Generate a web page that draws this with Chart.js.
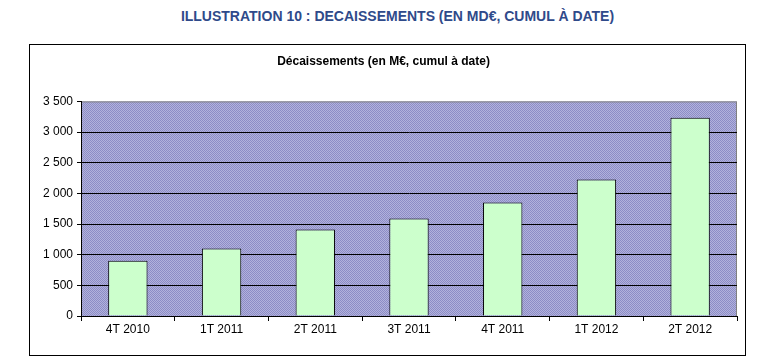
<!DOCTYPE html>
<html>
<head>
<meta charset="utf-8">
<script src="https://cdn.jsdelivr.net/npm/chart.js@4"></script>
<style>
  body { margin: 0; background: #fff; width: 767px; height: 363px; position: relative; overflow: hidden; }
  #mainTitle {
    position: absolute; left: 0; top: 8px; width: 795px; text-align: center;
    font-family: "Liberation Sans Narrow", "Arial Narrow", "Liberation Sans", sans-serif;
    font-weight: bold; font-size: 14px; color: #2F4A8A;
  }
  #box {
    position: absolute; left: 29px; top: 44px; width: 715px; height: 310px;
    border: 1px solid #000;
  }
</style>
</head>
<body>
<div id="mainTitle">ILLUSTRATION 10 : DECAISSEMENTS (EN MD€, CUMUL À DATE)</div>
<div id="box"><canvas id="myChart" width="715" height="310"></canvas></div>
<script>
const categories = ['4T 2010', '1T 2011', '2T 2011', '3T 2011', '4T 2011', '1T 2012', '2T 2012'];
const disbursements = [900, 1100, 1410, 1590, 1850, 2225, 3235];
const yTicks = [0, 500, 1000, 1500, 2000, 2500, 3000, 3500];

// checker texture for the plot area
function makePattern() {
    const tile = document.createElement('canvas');
    tile.width = 2;
    tile.height = 2;
    const t = tile.getContext('2d');
    t.fillStyle = '#8C8CC6';
    t.fillRect(0, 0, 2, 2);
    t.fillStyle = '#B2B2DC';
    t.fillRect(0, 0, 1, 1);
    t.fillRect(1, 1, 1, 1);
    return t.createPattern(tile, 'repeat');
}

const plotBackground = {
    id: 'plotBackground',
    beforeDraw(chart) {
        const { ctx, chartArea: a } = chart;
        ctx.save();
        ctx.fillStyle = makePattern();
        ctx.fillRect(a.left, a.top, a.right - a.left, a.bottom - a.top);
        ctx.strokeStyle = '#808080';
        ctx.lineWidth = 1;
        ctx.strokeRect(a.left + 0.5, a.top + 0.5, a.right - a.left - 1, a.bottom - a.top);
        ctx.restore();
    }
};

function formatThousands(v) {
    return String(v).replace(/\B(?=(\d{3})+(?!\d))/g, ' ');
}

const font = { family: '"Liberation Sans", Arial, sans-serif', size: 12 };

const canvas = document.getElementById('myChart');
new Chart(canvas.getContext('2d'), {
    type: 'bar',
    data: {
        labels: categories,
        datasets: [{
            label: 'Décaissements',
            data: disbursements,
            backgroundColor: '#CCFFCC',
            borderColor: '#000',
            borderWidth: 1,
            barPercentage: 0.42,
            categoryPercentage: 1
        }]
    },
    options: {
        responsive: false,
        animation: false,
        layout: { padding: { left: 0, right: 8, top: 0, bottom: 0 } },
        plugins: {
            legend: { display: false },
            tooltip: { enabled: false },
            title: {
                display: true,
                text: 'Décaissements (en M€, cumul à date)',
                color: '#000',
                font: { family: '"Liberation Sans", Arial, sans-serif', size: 12, weight: 'bold' },
                padding: { top: 9, bottom: 33 }
            }
        },
        scales: {
            x: {
                offset: true,
                grid: { offset: true, drawOnChartArea: false, drawTicks: true, tickLength: 5, color: '#000' },
                border: { color: '#000' },
                ticks: { color: '#000', font: font, padding: 1 },
                afterFit(scale) { scale.height = 39; }
            },
            y: {
                min: 0,
                max: 3500,
                afterBuildTicks(scale) { scale.ticks = yTicks.map(v => ({ value: v })); },
                grid: {
                    color: c => (c.tick && c.tick.value === 3500 ? 'rgba(0,0,0,0)' : '#000'),
                    tickColor: '#000',
                    tickLength: 4
                },
                border: { color: '#000' },
                ticks: { color: '#000', font: font, padding: 4, callback: v => formatThousands(v) },
                afterFit(scale) { scale.width = 51; }
            }
        }
    },
    plugins: [plotBackground]
});
</script>
</body>
</html>
